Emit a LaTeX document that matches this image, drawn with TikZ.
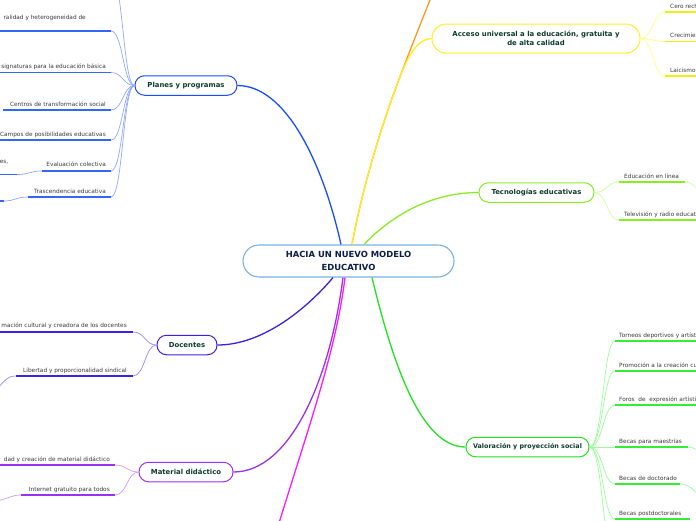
\documentclass[tikz,border=0pt]{standalone}
\usepackage{fontspec}
\setmainfont{DejaVu Sans}
\definecolor{planesc}{HTML}{1A4DFF}
\definecolor{planesul}{HTML}{3366FF}
\definecolor{planeslt}{HTML}{8FA8FF}
\definecolor{docc}{HTML}{3D1FE6}
\definecolor{docul}{HTML}{3A22EE}
\definecolor{doclt}{HTML}{9988FF}
\definecolor{matc}{HTML}{9A30F0}
\definecolor{matul}{HTML}{9933EE}
\definecolor{matlt}{HTML}{CC99FF}
\definecolor{magc}{HTML}{FF1AFF}
\definecolor{valc}{HTML}{22E022}
\definecolor{valul}{HTML}{33EE33}
\definecolor{vallt}{HTML}{99FF99}
\definecolor{tecc}{HTML}{88EE22}
\definecolor{tecul}{HTML}{88EE22}
\definecolor{teclt}{HTML}{CCFF99}
\definecolor{accc}{HTML}{FFEE22}
\definecolor{accul}{HTML}{EEEE11}
\definecolor{acclt}{HTML}{FFFF88}
\definecolor{orangec}{HTML}{FF9922}
\definecolor{centc}{HTML}{7AB3E0}
\definecolor{txtgreen}{HTML}{0D3B2E}
\definecolor{centtxt}{HTML}{0C1E45}
\definecolor{labgray}{HTML}{3A3A3A}
\begin{document}
\begin{tikzpicture}[x=1pt,y=-1pt,
  centre/.style={draw=centc, line width=1.1pt, rounded corners=16pt, fill=white,
    minimum width=211pt, minimum height=32pt, inner sep=0pt, align=center,
    font=\fontsize{8.4}{13}\selectfont\bfseries, text=centtxt},
  topic/.style={rounded corners=9.5pt, fill=white, line width=1pt,
    minimum height=19.5pt, inner sep=0pt, align=center,
    font=\fontsize{6.9}{9.3}\selectfont\bfseries, text=txtgreen},
  lab/.style={font=\fontsize{5.8}{7}\selectfont, text=labgray, inner sep=0pt},
  mainline/.style={line width=1.3pt},
  ul/.style={line width=1.8pt},
  twig/.style={line width=0.7pt}]
\useasboundingbox (0,0) rectangle (696,520);
\clip (0,0) rectangle (696,520);

% ---------- nodes ----------
\node[centre] (c) at (348.5,261) {HACIA UN NUEVO MODELO\\EDUCATIVO};
\node[topic, draw=planesc, minimum width=102pt] (pl) at (186,85.5) {Planes y programas};
\node[topic, draw=docc, minimum width=60pt] (do) at (187,345) {Docentes};
\node[topic, draw=matc, minimum width=94pt] (ma) at (186,472) {Material didáctico};
\node[topic, draw=accc, minimum width=208pt, minimum height=29pt, rounded corners=14pt] (ac) at (536,38.5) {Acceso universal a la educación, gratuita y\\de alta calidad};
\node[topic, draw=tecc, minimum width=115pt] (te) at (536.5,192.5) {Tecnologías educativas};
\node[topic, draw=valc, minimum width=123pt, font=\fontsize{6.4}{9}\selectfont\bfseries] (va) at (527.5,447) {Valoración y proyección social};

% ---------- main branches ----------
\coordinate (oe) at (440,-25);
\coordinate (me) at (268,560);
\draw[mainline, orangec] ([xshift=3.5pt]c.north) .. controls (362,190) and (380,130) .. (398,82) .. controls (410,50) and (420,25) .. (oe);
\draw[mainline, accc] ([xshift=3.5pt]c.north) .. controls (362,190) and (380,130) .. (398,82) .. controls (408,55) and (418,38.5) .. (ac.west);
\draw[mainline, planesc] ([xshift=-7.5pt]c.north) .. controls (322,160) and (285,85.5) .. (pl.east);
\draw[mainline, tecc] ([xshift=15.5pt]c.north) .. controls (395,212) and (435,192.5) .. (te.west);
\draw[mainline, valc] ([xshift=23.5pt]c.south) .. controls (392,360) and (420,447) .. (va.west);
\draw[mainline, docc] ([xshift=-15.5pt]c.south) .. controls (310,305) and (265,345) .. (do.east);
\draw[mainline, matc] ([xshift=-5.5pt]c.south) .. controls (330,380) and (290,472) .. (ma.east);
\draw[mainline, magc] ([xshift=-3.5pt]c.south) .. controls (335,360) and (300,450) .. (me);

% ---------- Planes y programas children ----------
\coordinate (p0) at (111,-25);
\coordinate (p1) at (111,31);
\coordinate (p2) at (111,72.5);
\coordinate (p3) at (111,110);
\coordinate (p4) at (111,140);
\coordinate (p5) at (111,171);
\coordinate (p6) at (111,197);
\foreach \k in {0,1,2,3,4,5,6}{
  \draw[twig, planeslt] (pl.west) .. controls (123,85.5) and (123,0|-p\k) .. (p\k);
}
\draw[ul, planesul] (p1) -- (-5,31);
\draw[ul, planesul] (p2) -- (-5,72.5);
\draw[ul, planesul] (p3) -- (3,110);
\draw[ul, planesul] (p4) -- (-5,140);
\draw[ul, planesul] (p5) -- (42,171);
\draw[twig, planeslt] (42,171) .. controls (30,171) and (29,174.5) .. (17,174.5);
\draw[ul, planesul] (17,174.5) -- (-5,174.5);
\draw[ul, planesul] (p6) -- (28,197);
\draw[twig, planeslt] (28,197) .. controls (16,197) and (15,201) .. (4,201);
\draw[ul, planesul] (4,201) -- (-5,201);
\node[lab, anchor=base east] (t1) at (86,19) {ralidad y heterogeneidad de};
\node[lab, anchor=base east] (t2) at (106,68.5) {signaturas para la educación básica};
\node[lab, anchor=base east] (t3) at (106,106) {Centros de transformación social};
\node[lab, anchor=base east] (t4) at (106,136) {Campos de posibilidades educativas};
\node[lab, anchor=base east] (t5) at (106,166.5) {Evaluación colectiva};
\node[lab, anchor=base east] (t5b) at (8.5,163) {es,};
\node[lab, anchor=base east] (t6) at (106,193) {Trascendencia educativa};

% ---------- Docentes children ----------
\coordinate (d1) at (133,332);
\coordinate (d2) at (133,376);
\foreach \k in {1,2}{
  \draw[twig, doclt] (do.west) .. controls (145,345) and (145,0|-d\k) .. (d\k);
}
\draw[ul, docul] (d1) -- (-5,332);
\draw[ul, docul] (d2) -- (16,376);
\draw[twig, doclt] (16,376) .. controls (6,376) and (4,382) .. (-4,390);
\node[lab, anchor=base east] (t7) at (127,327.5) {mación cultural y creadora de los docentes};
\node[lab, anchor=base east] (t8) at (127,372) {Libertad y proporcionalidad sindical};

% ---------- Material didáctico children ----------
\coordinate (m1) at (115,465);
\coordinate (m2) at (115,495);
\foreach \k in {1,2}{
  \draw[twig, matlt] (ma.west) .. controls (127,472) and (127,0|-m\k) .. (m\k);
}
\draw[ul, matul] (m1) -- (-5,465);
\draw[ul, matul] (m2) -- (21,495);
\draw[twig, matlt] (21,495) .. controls (11,495) and (8,499) .. (-4,501);
\node[lab, anchor=base east] (t9) at (110,461) {dad y creación de material didáctico};
\node[lab, anchor=base east] (t10) at (110,491) {Internet gratuito para todos};

% ---------- Acceso children ----------
\coordinate (a1) at (665,12);
\coordinate (a2) at (665,41.5);
\coordinate (a3) at (665,76);
\foreach \k in {1,2,3}{
  \draw[twig, acclt] (ac.east) .. controls (653,38.5) and (653,0|-a\k) .. (a\k);
}
\draw[ul, accul] (a1) -- (700,12);
\draw[ul, accul] (a2) -- (700,41.5);
\draw[ul, accul] (a3) -- (700,76);
\node[lab, anchor=base west] (t11) at (670,8) {Cero rechazo};
\node[lab, anchor=base west] (t12) at (670,37.5) {Crecimiento};
\node[lab, anchor=base west] (t13) at (670,72) {Laicismo};

% ---------- Tecnologías children ----------
\coordinate (e1) at (619,182);
\coordinate (e2) at (619,220);
\foreach \k in {1,2}{
  \draw[twig, teclt] (te.east) .. controls (607,192.5) and (607,0|-e\k) .. (e\k);
}
\draw[ul, tecul] (e1) -- (685,182);
\draw[twig, teclt] (685,182) .. controls (693,182) and (694,188) .. (702,192);
\draw[ul, tecul] (e2) -- (700,220);
\node[lab, anchor=base west] (t14) at (624,178) {Educación en línea};
\node[lab, anchor=base west] (t15) at (624,216) {Televisión y radio educativa};

% ---------- Valoración children ----------
\coordinate (v1) at (615,341);
\coordinate (v2) at (615,371);
\coordinate (v3) at (615,405);
\coordinate (v4) at (615,447);
\coordinate (v5) at (615,484);
\coordinate (v6) at (615,519);
\coordinate (v7) at (615,560);
\foreach \k in {1,2,3,4,5,6,7}{
  \draw[twig, vallt] (va.east) .. controls (603,447) and (603,0|-v\k) .. (v\k);
}
\draw[ul, valul] (v1) -- (700,341);
\draw[ul, valul] (v2) -- (700,371);
\draw[ul, valul] (v3) -- (700,405);
\draw[ul, valul] (v4) -- (688,447);
\draw[twig, vallt] (688,447) .. controls (694,447) and (695,450) .. (702,452);
\draw[ul, valul] (v5) -- (680,484);
\draw[twig, vallt] (680,484) .. controls (690,484) and (692,490) .. (702,497);
\draw[ul, valul] (v6) -- (690,519);
\node[lab, anchor=base west] (t16) at (619,337) {Torneos deportivos y artísticos};
\node[lab, anchor=base west] (t17) at (619,367) {Promoción a la creación cultural};
\node[lab, anchor=base west] (t18) at (619,401) {Foros\ \ de\ \ expresión artística};
\node[lab, anchor=base west] (t19) at (619,443) {Becas para maestrías};
\node[lab, anchor=base west] (t20) at (619,480) {Becas de doctorado};
\node[lab, anchor=base west] (t21) at (619,515) {Becas postdoctorales};
\end{tikzpicture}
\end{document}
